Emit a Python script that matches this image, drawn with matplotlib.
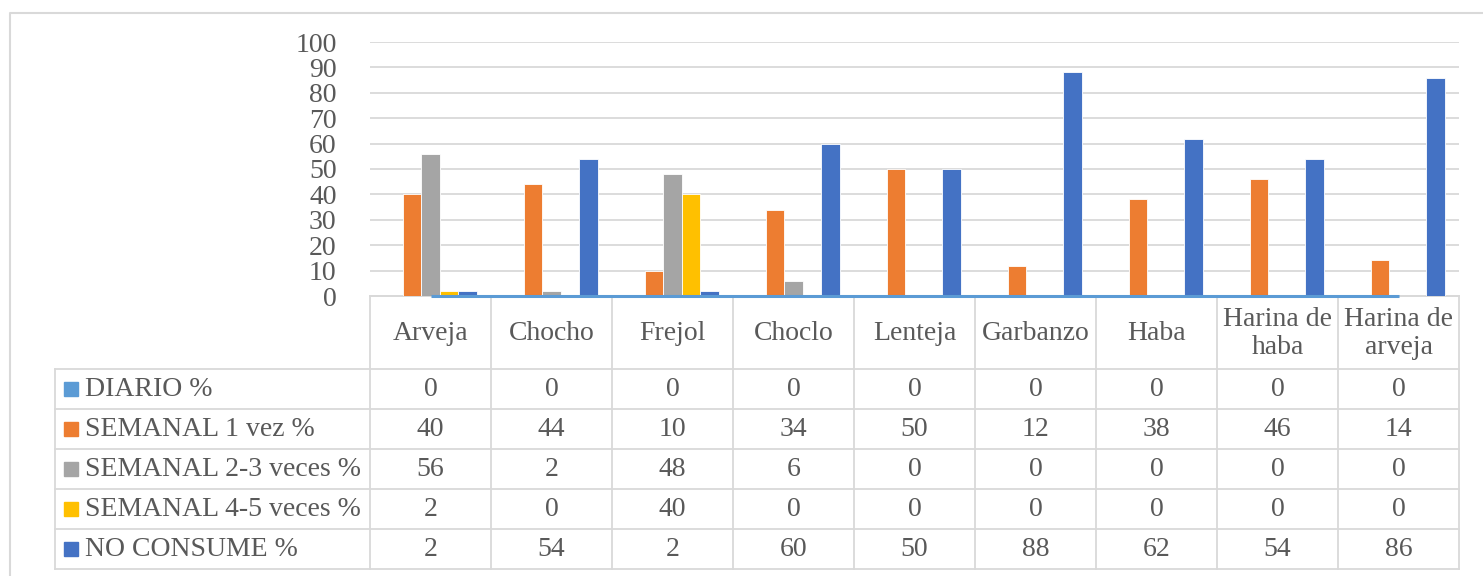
import matplotlib
matplotlib.use('Agg')
import matplotlib.pyplot as plt
import numpy as np

categorias = ['Arveja', 'Chocho', 'Frejol', 'Choclo', 'Lenteja', 'Garbanzo', 'Haba',
              'Harina de\nhaba', 'Harina de\narveja']
series = ['DIARIO %', 'SEMANAL 1 vez %', 'SEMANAL 2-3 veces %', 'SEMANAL 4-5 veces %', 'NO CONSUME %']
diario = [0, 0, 0, 0, 0, 0, 0, 0, 0]
semanal_1 = [40, 44, 10, 34, 50, 12, 38, 46, 14]
semanal_23 = [56, 2, 48, 6, 0, 0, 0, 0, 0]
semanal_45 = [2, 0, 40, 0, 0, 0, 0, 0, 0]
no_consume = [2, 54, 2, 60, 50, 88, 62, 54, 86]
valores = [diario, semanal_1, semanal_23, semanal_45, no_consume]
colores = ['#5B9BD5', '#ED7D31', '#A5A5A5', '#FFC000', '#4472C4']

W, H = 1483, 576
texto = '#595959'
borde = '#D9D9D9'
fuente = 'Liberation Serif'
fs = 20

fig = plt.figure(figsize=(W / 100, H / 100), dpi=100)
fig.set_facecolor('white')

# zona del grafico de barras (pixeles)
x0, x1 = 370, 1459
y0, y100 = 296, 42
ax = fig.add_axes([x0 / W, 1 - y0 / H, (x1 - x0) / W, (y0 - y100) / H])

n = len(categorias)
x = np.arange(n)
ancho = 0.154
for i, (vals, col) in enumerate(zip(valores, colores)):
    pos = x + (i - 2) * ancho
    if i == 0:
        # la serie diaria (todo cero) queda como una linea sobre el eje
        ax.plot(x, vals, color=col, lw=2.2, zorder=5, solid_capstyle='butt', clip_on=False)
    else:
        ax.bar(pos, vals, width=ancho, color=col, edgecolor='white', linewidth=0.6, zorder=3)

ax.set_xlim(-0.5, n - 0.5)
ax.set_ylim(0, 100)
ax.set_yticks(range(0, 101, 10))
ax.set_xticks([])
ax.grid(axis='y', color=borde, lw=1.3, zorder=0)
for s in ['top', 'right', 'left']:
    ax.spines[s].set_visible(False)
ax.spines['bottom'].set_color(borde)
ax.spines['bottom'].set_linewidth(1.3)
ax.spines['bottom'].set_zorder(1)
ax.tick_params(axis='y', length=0, pad=24, labelsize=fs, labelcolor=texto)
for t in ax.get_yticklabels():
    t.set_fontfamily(fuente)
ax.patch.set_alpha(0)

# capa para la tabla de datos y el marco
ov = fig.add_axes([0, 0, 1, 1], zorder=-1)
ov.set_xlim(0, W)
ov.set_ylim(H, 0)
ov.axis('off')

# marco exterior
ov.plot([10, 10, W + 5], [H + 5, 13, 13], color=borde, lw=1.5)

col_w = (x1 - x0) / n
leg_x = 55
filas = [369 + 40 * k for k in range(6)]
y_fin = filas[-1]

# lineas horizontales
ov.plot([x0, x1], [y0, y0], color=borde, lw=1.3)
for yy in filas:
    ov.plot([leg_x, x1], [yy, yy], color=borde, lw=1.3)
# lineas verticales
ov.plot([leg_x, leg_x], [filas[0], y_fin], color=borde, lw=1.3)
for k in range(n + 1):
    xx = x0 + k * col_w
    ov.plot([xx, xx], [y0, y_fin], color=borde, lw=1.3)

# cabecera con las categorias
for k, cat in enumerate(categorias):
    ov.text(x0 + (k + 0.5) * col_w, (y0 + filas[0]) / 2 + 1, cat, ha='center', va='center',
            fontsize=fs, color=texto, family=fuente, linespacing=1.15)

# filas de la serie
for r, (nombre, vals, col) in enumerate(zip(series, valores, colores)):
    yc = (filas[r] + filas[r + 1]) / 2
    ov.add_patch(plt.Rectangle((64, yc - 7), 14, 14, color=col))
    ov.text(85, yc, nombre, ha='left', va='center', fontsize=fs, color=texto, family=fuente)
    for k, v in enumerate(vals):
        ov.text(x0 + (k + 0.5) * col_w, yc, str(v), ha='center', va='center',
                fontsize=fs, color=texto, family=fuente)

plt.savefig('out.png', dpi=100, facecolor='white')
